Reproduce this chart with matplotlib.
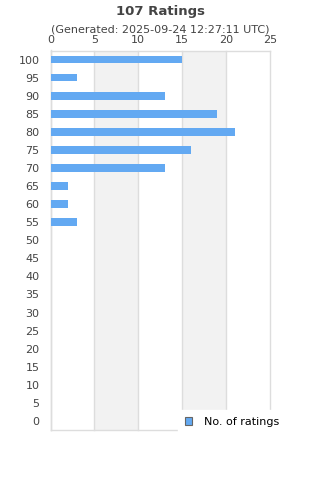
import matplotlib
matplotlib.use("Agg")
import matplotlib.pyplot as plt
from matplotlib.patches import Patch

categories = list(range(100, -1, -5))
values = [15, 3, 13, 19, 21, 16, 13, 2, 2, 3, 0, 0, 0, 0, 0, 0, 0, 0, 0, 0, 0]
x_ticks = [0, 5, 10, 15, 20, 25]
title = "107 Ratings"
subtitle = "(Generated: 2025-09-24 12:27:11 UTC)"
series_name = "No. of ratings"

plt.rcParams['font.family'] = ['DejaVu Sans']
fig = plt.figure(figsize=(3.2, 4.8), dpi=100)
W, H = 320, 480
L, R, T, B = 50.5, 270, 50.5, 430
ax = fig.add_axes([L / W, 1 - B / H, (R - L) / W, (B - T) / H])

n = len(categories)
ypos = list(range(n))
ax.barh(ypos, values, height=0.43, color="#63a9f2", zorder=3)
ax.set_ylim(n - 0.5, -0.5)
ax.set_xlim(0, 25)
ax.set_yticks(ypos)
ax.set_yticklabels([str(c) for c in categories])
ax.set_xticks(x_ticks)
ax.xaxis.tick_top()
ax.tick_params(axis='both', length=0, labelsize=8, colors="#444444")
ax.tick_params(axis='x', pad=4)
ax.tick_params(axis='y', pad=8)

# alternating bands
for i in range(len(x_ticks) - 1):
    if i % 2 == 1:
        ax.axvspan(x_ticks[i], x_ticks[i + 1], color="#f2f2f2", zorder=0, lw=0)
for xt in x_ticks:
    ax.axvline(xt, color="#dddddd", lw=1, zorder=1, clip_on=False)

for s in ['left', 'top', 'bottom']:
    ax.spines[s].set_color("#dddddd")
    ax.spines[s].set_linewidth(1)
ax.spines['right'].set_visible(False)

fig.text(0.5, 1 - 11 / H, title, ha='center', va='center', fontsize=9.5,
         fontweight='bold', color="#444444")
fig.text(0.5, 1 - 30 / H, subtitle, ha='center', va='center', fontsize=8,
         color="#444444")

handle = Patch(facecolor="#63a9f2", edgecolor="#666666", linewidth=0.8)
leg = ax.legend([handle], [series_name], loc='upper left',
                bbox_to_anchor=(178 / W, 1 - 410 / H), bbox_transform=fig.transFigure,
                frameon=True, fancybox=False, fontsize=8, handlelength=0.7,
                handleheight=0.7, handletextpad=1.0, borderpad=0.6,
                borderaxespad=0)
leg.get_frame().set_facecolor("white")
leg.get_frame().set_edgecolor("white")
leg.get_frame().set_alpha(1)
leg.set_zorder(10)

fig.savefig("out.png", dpi=100)
